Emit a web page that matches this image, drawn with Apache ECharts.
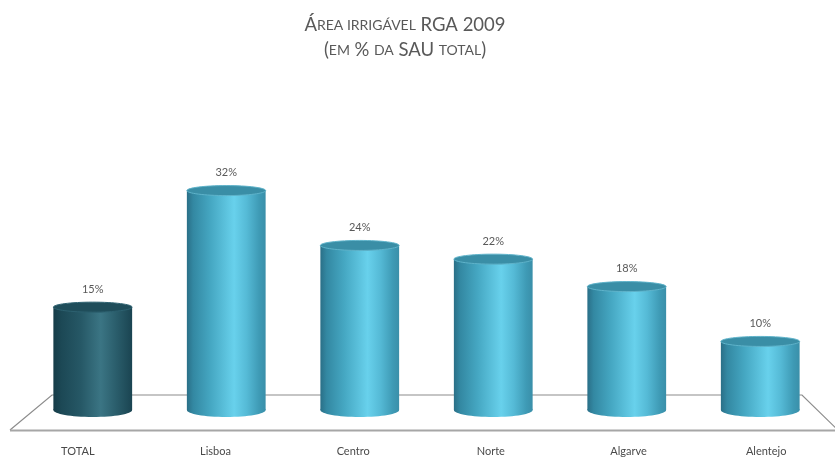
<!DOCTYPE html>
<html>
<head>
<meta charset="utf-8">
<script src="https://cdn.jsdelivr.net/npm/echarts@6/dist/echarts.min.js"></script>
<style>
  html, body { margin: 0; padding: 0; background: #ffffff; }
  #chart { width: 835px; height: 457px; }
</style>
</head>
<body>
<div id="chart"></div>
<script>
// Irrigable area (RGA 2009), share of total utilised agricultural area
const categories = ['TOTAL', 'Lisboa', 'Centro', 'Norte', 'Algarve', 'Alentejo'];
const values = [15, 32, 24, 22, 18, 10];
const highlighted = ['TOTAL'];

const FONT = 'Lato, "Open Sans", sans-serif';

const blueBody = [
  [0, '#2a6f87'], [0.08, '#3388a2'], [0.3, '#45a7c2'],
  [0.6, '#68d1ec'], [0.76, '#55bad6'], [0.92, '#3e9ab5'], [1, '#3a8fa9']
];
const darkBody = [
  [0, '#163c48'], [0.1, '#1c4855'], [0.35, '#265866'],
  [0.6, '#3b7584'], [0.8, '#2a5d6b'], [1, '#1a4451']
];

function grad(stops) {
  return new echarts.graphic.LinearGradient(0, 0, 1, 0,
    stops.map(s => ({ offset: s[0], color: s[1] })));
}

const chart = echarts.init(document.getElementById('chart'), null, { renderer: 'canvas' });

chart.setOption({
  backgroundColor: '#ffffff',
  animation: false,
  title: {
    left: 400,
    textAlign: 'center',
    top: 8,
    text: '{b|Á}{s|REA IRRIGÁVEL} {b|RGA 2009}\n{b|(}{s|EM} {b|%} {s|DA} {b|SAU} {s|TOTAL}{b|)}',
    textStyle: {
      fontFamily: FONT,
      fontWeight: 'normal',
      color: '#595959',
      lineHeight: 25,
      rich: {
        b: { fontFamily: FONT, fontWeight: 'normal', fontSize: 18.5, color: '#595959', lineHeight: 25 },
        s: { fontFamily: FONT, fontWeight: 'normal', fontSize: 14, color: '#595959', lineHeight: 25 }
      }
    }
  },
  grid: [
    { left: 26, right: 8, top: 170, bottom: 47 },
    { left: 9, width: 833, top: 100, bottom: 17 }
  ],
  xAxis: [
    {
      gridIndex: 0, type: 'category', data: categories,
      axisLine: { show: false }, axisTick: { show: false }, axisLabel: { show: false }
    },
    {
      gridIndex: 1, type: 'category', data: categories,
      axisLine: { show: false }, axisTick: { show: false },
      axisLabel: { fontFamily: FONT, fontSize: 11, color: '#4a4a4a', margin: 6 }
    }
  ],
  yAxis: [
    { gridIndex: 0, type: 'value', min: 0, max: 35, show: false, splitLine: { show: false } },
    { gridIndex: 1, type: 'value', min: 0, max: 1, show: false, splitLine: { show: false } }
  ],
  graphic: [
    {
      // floor of the plot area
      type: 'polyline', z: 0, silent: true,
      shape: { points: [[845, 437], [802, 395], [52, 395], [10, 430]] },
      style: { stroke: '#8c8c8c', lineWidth: 1.2, fill: null }
    },
    {
      type: 'line', z: 0, silent: true,
      shape: { x1: 10, y1: 430.5, x2: 835, y2: 430.5 },
      style: { stroke: '#a6a6a6', lineWidth: 2 }
    }
  ],
  series: [{
    type: 'custom',
    xAxisIndex: 0,
    yAxisIndex: 0,
    z: 5,
    data: categories.map((c, i) => [i, values[i]]),
    renderItem(params, api) {
      const i = api.value(0);
      const v = api.value(1);
      const top = api.coord([i, v]);
      const base = api.coord([i, 0]);
      const w = api.size([1, 0])[0] * 0.59;
      const rx = w / 2;
      const cx = top[0];
      const dark = highlighted.indexOf(categories[i]) >= 0;
      const body = grad(dark ? darkBody : blueBody);
      return {
        type: 'group',
        children: [
          { type: 'ellipse', shape: { cx: cx, cy: base[1], rx: rx, ry: 7 }, style: { fill: body } },
          { type: 'rect', shape: { x: cx - rx, y: top[1], width: w, height: base[1] - top[1] }, style: { fill: body } },
          {
            type: 'ellipse', shape: { cx: cx, cy: top[1], rx: rx, ry: 5 },
            style: {
              fill: dark ? '#1f4d5a' : '#3a8ea6',
              stroke: dark ? '#2d6170' : '#5fb3ca', lineWidth: 1
            }
          },
          {
            type: 'text',
            style: {
              text: v + '%', x: cx, y: top[1] - 18,
              align: 'center', verticalAlign: 'middle',
              fontFamily: FONT, fontSize: 11, fill: '#595959'
            }
          }
        ]
      };
    }
  }]
});
</script>
</body>
</html>
